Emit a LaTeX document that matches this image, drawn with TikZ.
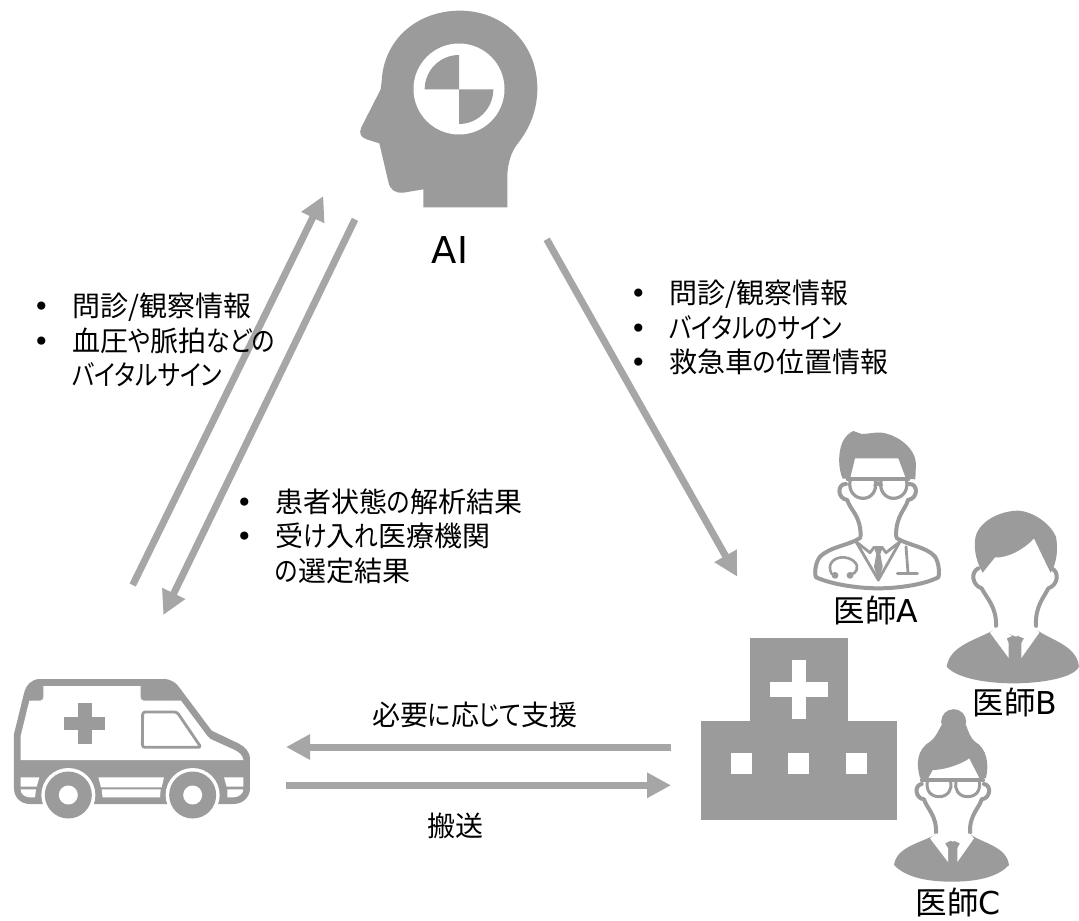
\documentclass[tikz,border=0pt]{standalone}
\usepackage{fontspec}
\setmainfont[RawFeature=+palt]{Noto Sans CJK JP}
\newfontfamily\latinface{DejaVu Sans}
\newfontfamily\kanaface[RawFeature=+palt,FakeStretch=0.85]{Noto Sans CJK JP}
\newcommand{\kn}[1]{{\kanaface #1}}
\usetikzlibrary{arrows.meta}
\definecolor{icongray}{HTML}{9B9B9B}
\definecolor{arrowgray}{HTML}{A6A6A6}
\newcommand{\bul}{\makebox[39pt][l]{\latinface •}}
\newcommand{\nobul}{\hspace*{39pt}}
\tikzset{
  conn/.style={draw=arrowgray,line width=7pt,-{Triangle[length=24pt,width=24pt]}},
  listtext/.style={anchor=north west,inner sep=0pt,align=left,font=\fontsize{28}{34.5}\selectfont},
  lbl/.style={inner sep=0pt,font=\fontsize{28}{32}\selectfont},
  docname/.style={inner sep=0pt,font=\fontsize{31.5}{36}\selectfont},
  zoomed/.style={shift={#1},x=0.33333pt,y=-0.33333pt},
  gfill/.style={fill=icongray,draw=none},
  wfill/.style={fill=white,draw=none},
  gline/.style={draw=icongray,line width=4pt,line cap=round,line join=round,fill=none}
}
\begin{document}
\begin{tikzpicture}[x=1pt,y=-1pt]
\useasboundingbox (0,0) rectangle (1079,921);
\fill[white] (0,0) rectangle (1079,921);

% --- AI head
\begin{scope}[zoomed={(340,0)}]
\fill[gfill] (250,622) -- (502,622) -- (502,530)
  .. controls (502,490) and (515,455) .. (530,435)
  .. controls (570,385) and (592,330) .. (592,265)
  .. controls (592,130) and (490,32) .. (360,32)
  .. controls (230,32) and (130,120) .. (125,245)
  -- (122,268) -- (64,382)
  .. controls (56,400) and (62,412) .. (80,418)
  -- (118,430) -- (145,545)
  .. controls (150,570) and (165,580) .. (190,578)
  -- (250,568) -- cycle;
\fill[white] (357,267) circle [radius=45.5pt];
\fill[gfill] (357,268) -- (357,165) .. controls (300,165) and (254,211) .. (254,268) -- cycle;
\fill[gfill] (357,268) -- (460,268) .. controls (460,325) and (414,372) .. (357,372) -- cycle;
\end{scope}
\node[inner sep=0pt,font=\latinface\fontsize{37}{42}\selectfont] (ailabel) at (450,250) {AI};

% --- Ambulance
\begin{scope}[zoomed={(0,660)}]
\fill[gfill] (42,222) -- (72,100) .. controls (78,75) and (95,57) .. (120,57)
  -- (490,57) .. controls (515,57) and (530,70) .. (540,85)
  -- (635,212) -- (715,250) .. controls (735,260) and (750,275) .. (750,298)
  -- (750,385) .. controls (750,410) and (730,432) .. (700,432)
  -- (90,432) .. controls (60,432) and (42,410) .. (42,385) -- cycle;
\fill[wfill] (62,300) -- (62,228) -- (88,122) -- (120,122) .. controls (126,122) and (130,118) .. (130,112)
  -- (130,78) -- (422,78) -- (422,112) .. controls (422,118) and (426,122) .. (432,122)
  -- (543,122) -- (622,228) .. controls (628,236) and (632,238) .. (640,241)
  -- (700,268) .. controls (718,277) and (728,285) .. (730,300) -- cycle;
\fill[gfill] (233,128) rectangle (275,252);
\fill[gfill] (192,170) rectangle (316,210);
\draw[gline,line width=2.8pt,rounded corners=2.5pt] (428,156) -- (531,156) -- (603,262) -- (427,262) -- cycle;
\fill[wfill] (62,352) -- (118,352) -- (110,380) -- (62,380) -- cycle;
\fill[wfill] (62,388) -- (108,388) -- (105,412) -- (88,412) .. controls (72,410) and (62,402) .. (62,388) -- cycle;
\fill[wfill] (295,352) -- (492,352) -- (485,382) -- (303,382) -- cycle;
\fill[wfill] (305,388) -- (482,388) -- (480,412) -- (308,412) -- cycle;
\fill[wfill] (672,352) -- (730,352) -- (730,380) -- (680,380) -- cycle;
\fill[wfill] (682,388) -- (730,388) .. controls (730,402) and (715,412) .. (700,412) -- (682,412) -- cycle;
\foreach \wx in {205,578} {
  \fill[white] (\wx,405) circle [radius=27pt];
  \fill[gfill] (\wx,405) circle [radius=23.5pt];
  \fill[white] (\wx,405) circle [radius=9.5pt];
}
\end{scope}

% --- Hospital
\begin{scope}[zoomed={(690,630)}]
\fill[gfill] (180,25) rectangle (473,273);
\fill[gfill] (33,273) rectangle (620,570);
\fill[wfill] (305,91) rectangle (349,266);
\fill[wfill] (239,156) rectangle (414,200);
\fill[wfill] (124,370) rectangle (187,433);
\fill[wfill] (295,370) rectangle (358,433);
\fill[wfill] (467,370) rectangle (530,433);
\end{scope}

% --- Doctor A
\begin{scope}[zoomed={(800,420)}]
\fill[gfill] (160,33) -- (185,42) .. controls (205,42) and (225,36) .. (245,38)
  .. controls (295,45) and (345,85) .. (348,130) -- (346,178) -- (318,176) -- (295,115) -- (165,115) -- (150,176) -- (128,176)
  .. controls (116,150) and (112,100) .. (128,65) .. controls (135,50) and (148,38) .. (160,33) -- cycle;
\draw[gline,line width=4pt] (143,178) -- (325,178);
\draw[gline,line width=3.2pt] (150,183) .. controls (145,215) and (165,235) .. (190,235) .. controls (215,235) and (232,210) .. (226,183);
\draw[gline,line width=3.2pt] (243,183) .. controls (237,210) and (255,235) .. (280,235) .. controls (305,235) and (325,215) .. (320,183);
\draw[gline] (226,195) .. controls (232,188) and (238,188) .. (243,195);
\draw[gline] (138,192) .. controls (112,190) and (110,235) .. (142,240) .. controls (150,270) and (182,285) .. (182,348);
\draw[gline] (328,192) .. controls (354,190) and (356,235) .. (324,240) .. controls (316,270) and (288,285) .. (288,348);
\draw[gline] (180,354) .. controls (150,375) and (90,380) .. (60,410) .. controls (48,425) and (42,455) .. (48,472)
  .. controls (100,495) and (180,505) .. (235,505) .. controls (290,505) and (370,495) .. (415,472)
  .. controls (420,455) and (415,425) .. (405,410) .. controls (380,380) and (320,375) .. (290,354);
\draw[gline,line width=2.8pt] (168,365) -- (235,480) -- (300,365);
\draw[gline,line width=2.8pt] (168,365) -- (210,398) -- (222,382);
\draw[gline,line width=2.8pt] (300,365) -- (258,398) -- (246,382);
\fill[gfill] (220,378) -- (250,378) -- (241,402) -- (248,440) -- (235,485) -- (222,440) -- (229,402) -- cycle;
\draw[gline,line width=2.8pt] (318,380) -- (324,458);
\draw[gline,line width=3.2pt] (292,460) -- (352,460);
\draw[gline,line width=2.6pt] (95,462) .. controls (78,430) and (105,412) .. (128,412) .. controls (155,412) and (178,432) .. (170,450) .. controls (166,458) and (160,462) .. (155,462);
\fill[gfill] (105,466) circle [radius=3.4pt];
\fill[gfill] (150,466) circle [radius=3.4pt];
\end{scope}
\node[docname] (docA) at (876,610) {医師\latinface A};

% --- Doctor B
\begin{scope}[zoomed={(800,420)}]
\fill[gfill] (548,458) .. controls (525,420) and (518,370) .. (530,340)
  .. controls (550,295) and (610,272) .. (655,272)
  .. controls (700,275) and (750,310) .. (768,350)
  .. controls (775,390) and (770,430) .. (752,458)
  -- (738,430) -- (702,355) .. controls (670,390) and (620,415) .. (585,412) -- cycle;
\draw[gline] (535,445) .. controls (512,455) and (515,495) .. (545,505) .. controls (560,535) and (590,560) .. (588,618);
\draw[gline] (755,445) .. controls (778,455) and (775,495) .. (745,505) .. controls (730,535) and (705,560) .. (708,618);
\fill[gfill] (585,628) .. controls (530,660) and (450,675) .. (440,740)
  .. controls (470,775) and (560,790) .. (640,790)
  .. controls (720,790) and (820,775) .. (837,740)
  .. controls (830,675) and (750,660) .. (708,628) -- (648,650) -- cycle;
\fill[wfill] (570,638) -- (590,622) -- (636,648) -- (620,655) -- (626,670) -- (626,714) -- cycle;
\fill[wfill] (718,638) -- (706,622) -- (654,648) -- (672,655) -- (664,670) -- (664,714) -- cycle;
\end{scope}
\node[docname] (docB) at (1015,702) {医師\latinface B};

% --- Doctor C
\begin{scope}[zoomed={(880,690)}]
\fill[gfill] (221,95) circle [radius=12.5pt];
\fill[gfill] (145,264) -- (120,264) .. controls (108,220) and (110,180) .. (150,155)
  .. controls (170,140) and (175,120) .. (185,105) -- (258,105) .. controls (265,125) and (272,145) .. (285,155)
  .. controls (320,175) and (328,220) .. (318,264) -- (298,264) -- (268,205)
  .. controls (240,225) and (190,240) .. (158,240) -- cycle;
\draw[gline,line width=3.6pt] (125,270) -- (310,270);
\draw[gline,line width=3pt] (142,275) .. controls (138,300) and (150,320) .. (178,320) .. controls (205,320) and (218,295) .. (212,275);
\draw[gline,line width=3pt] (228,275) .. controls (222,295) and (235,320) .. (262,320) .. controls (290,320) and (302,300) .. (298,275);
\draw[gline] (125,282) .. controls (102,285) and (105,325) .. (132,328) .. controls (140,355) and (170,375) .. (168,428);
\draw[gline] (312,282) .. controls (335,285) and (332,325) .. (305,328) .. controls (297,355) and (268,375) .. (270,428);
\fill[gfill] (165,434) .. controls (120,460) and (50,470) .. (42,525)
  .. controls (80,565) and (150,575) .. (215,575)
  .. controls (280,575) and (350,565) .. (387,525)
  .. controls (380,470) and (310,460) .. (272,434) -- (218,455) -- cycle;
\fill[wfill] (150,445) -- (168,430) -- (212,452) -- (195,460) -- (204,475) -- (204,516) -- cycle;
\fill[wfill] (282,445) -- (268,430) -- (222,452) -- (240,460) -- (232,475) -- (232,516) -- cycle;
\end{scope}
\node[docname] (docC) at (958,902) {医師\latinface C};

% --- Connector end points
\coordinate (ambUpStart) at (132.7,585);
\coordinate (aiInTip) at (323.3,196);
\coordinate (aiOutStart) at (355,219.3);
\coordinate (ambInTip) at (163.3,615);
\coordinate (aiToHospStart) at (546.7,239.3);
\coordinate (hospInTip) at (737.3,576.7);
\coordinate (hospOutStart) at (671,747);
\coordinate (ambSupportTip) at (286,747);
\coordinate (ambOutStart) at (286,785.3);
\coordinate (hospTransportTip) at (671,785.3);

\draw[conn] (ambUpStart) -- (aiInTip);
\draw[conn] (aiOutStart) -- (ambInTip);
\draw[conn] (aiToHospStart) -- (hospInTip);
\draw[conn] (hospOutStart) -- (ambSupportTip);
\draw[conn] (ambOutStart) -- (hospTransportTip);

% --- Labels
\node[listtext] (listUp) at (33,293) {\bul 問診/観察情報\\\bul 血圧\kn{や}脈拍\kn{などの}\\\nobul \kn{バイタルサイン}};
\node[listtext] (listDown) at (236,488.5) {\bul 患者状態\kn{の}解析結果\\\bul 受\kn{け}入\kn{れ}医療機関\\\nobul \kn{の}選定結果};
\node[listtext] (listRight) at (630,280) {\bul 問診/観察情報\\\bul \kn{バイタルのサイン}\\\bul 救急車\kn{の}位置情報};
\node[lbl] (support) at (475,715) {必要\kn{に}応\kn{じて}支援};
\node[lbl] (transport) at (455,826) {搬送};
\end{tikzpicture}
\end{document}
